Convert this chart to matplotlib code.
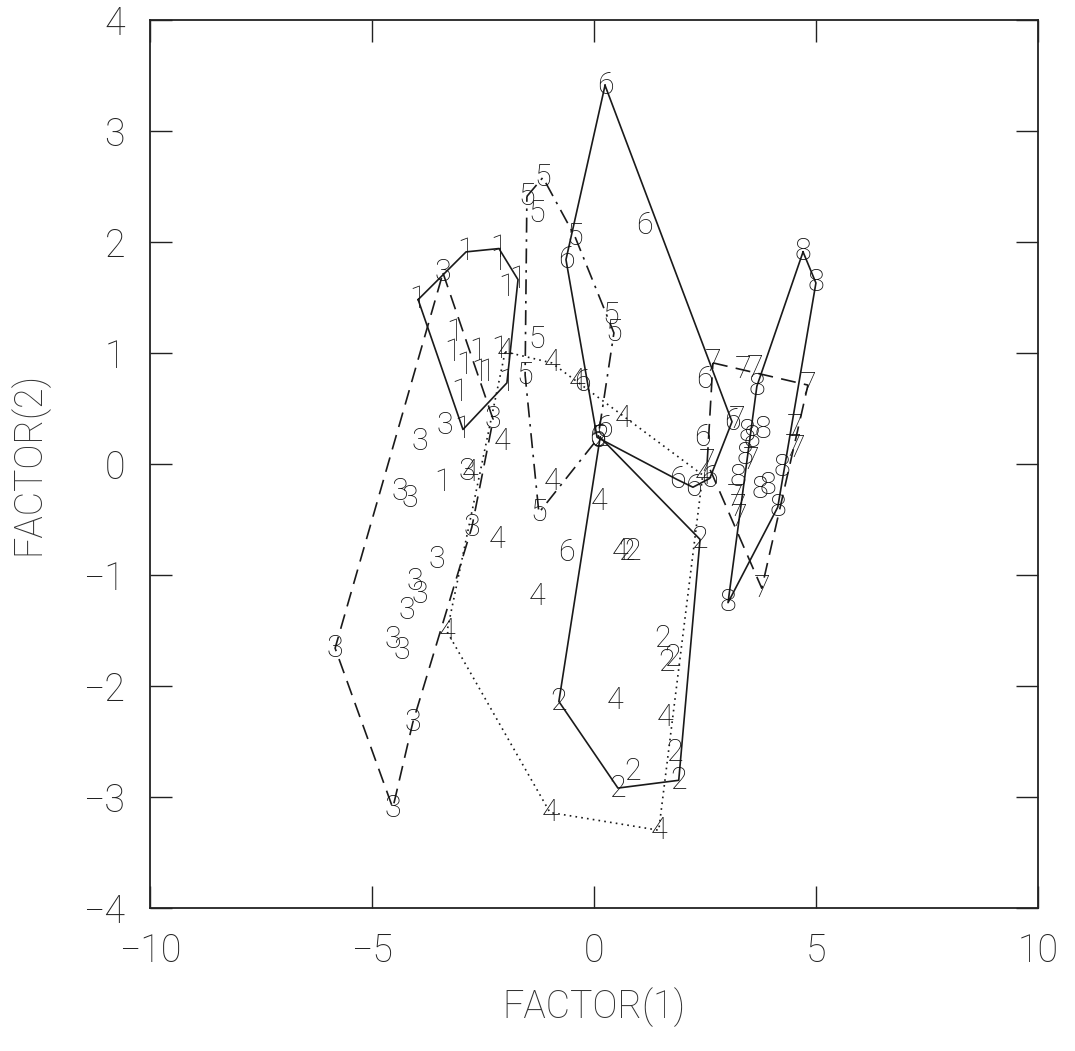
import numpy as np
import matplotlib
matplotlib.use("Agg")
import matplotlib.pyplot as plt

plt.rcParams['font.family'] = ['Roboto', 'DejaVu Sans']

# group labels and their factor scores (FACTOR(1), FACTOR(2))
g1_x = [-3.96, -2.88, -2.14, -2.14, -1.71, -1.96, -3.13, -3.18, -2.61, -2.91, -2.57, -2.41, -2.12, -1.96, -3.02, -2.95, -3.40]
g1_y = [1.48, 1.91, 1.94, 1.82, 1.66, 1.59, 1.18, 1.00, 1.01, 0.89, 0.82, 0.82, 1.03, 0.73, 0.64, 0.31, -0.17]
g1_hull = [0, 1, 2, 4, 13, 15]

g2_x = [0.14, 2.39, 0.74, 0.88, 1.55, 1.78, 1.64, -0.79, 1.82, 0.86, 0.54, 1.91]
g2_y = [0.24, -0.68, -0.79, -0.79, -1.57, -1.74, -1.79, -2.14, -2.60, -2.77, -2.92, -2.85]
g2_hull = [0, 1, 11, 10, 7]

g3_x = [-3.40, -2.27, -3.36, -3.92, -2.86, -4.37, -4.14, -2.75, -3.54, -4.03, -3.92, -4.21, -4.53, -4.32, -5.83, -4.08, -4.53]
g3_y = [1.72, 0.40, 0.35, 0.20, -0.07, -0.25, -0.31, -0.57, -0.86, -1.06, -1.18, -1.32, -1.58, -1.68, -1.66, -2.33, -3.10]
g3_hull = [0, 1, 7, 15, 16, 14]

g4_x = [-2.00, -0.95, 0.65, 2.45, -2.07, -2.79, -0.95, 0.11, -2.18, 0.59, -1.28, -3.31, 0.47, 1.60, -0.99, 1.46, -0.38]
g4_y = [1.01, 0.91, 0.41, -0.10, 0.20, -0.08, -0.16, -0.34, -0.68, -0.79, -1.19, -1.51, -2.13, -2.28, -3.14, -3.30, 0.74]
g4_hull = [0, 1, 3, 15, 14, 11]

g5_x = [-1.15, -1.51, -1.28, -0.43, 0.38, 0.45, -1.28, -1.55, -1.24, 0.09]
g5_y = [2.58, 2.41, 2.26, 2.05, 1.34, 1.18, 1.12, 0.80, -0.44, 0.23]
g5_hull = [1, 0, 3, 5, 9, 8, 7]

g6_x = [0.25, 1.13, -0.63, -0.27, 0.07, 0.23, 2.48, 2.45, 1.87, 2.23, 2.61, 3.11, -0.61]
g6_y = [3.41, 2.15, 1.84, 0.73, 0.24, 0.32, 0.76, 0.24, -0.14, -0.21, -0.13, 0.38, -0.80]
g6_hull = [0, 11, 10, 9, 8, 4, 2]

g7_x = [2.68, 3.36, 3.63, 4.82, 3.22, 4.53, 4.48, 4.57, 3.55, 2.55, 3.18, 3.24, 3.27, 3.78]
g7_y = [0.91, 0.85, 0.86, 0.71, 0.40, 0.33, 0.15, 0.14, 0.03, 0.01, -0.30, -0.39, -0.48, -1.12]
g7_hull = [0, 3, 13, 9]

g8_x = [4.71, 5.00, 3.67, 3.45, 3.56, 3.81, 3.40, 3.24, 3.92, 3.74, 4.23, 4.14, 3.02]
g8_y = [1.91, 1.63, 0.70, 0.28, 0.23, 0.31, 0.08, -0.12, -0.19, -0.23, -0.03, -0.39, -1.25]
g8_hull = [0, 1, 11, 12, 2]

groups = [
    ('1', g1_x, g1_y, g1_hull, '-'),
    ('2', g2_x, g2_y, g2_hull, '-'),
    ('3', g3_x, g3_y, g3_hull, (0, (9, 5))),
    ('4', g4_x, g4_y, g4_hull, (0, (1, 2.5))),
    ('5', g5_x, g5_y, g5_hull, (0, (9, 4, 1.5, 4))),
    ('6', g6_x, g6_y, g6_hull, '-'),
    ('7', g7_x, g7_y, g7_hull, (0, (9, 5))),
    ('8', g8_x, g8_y, g8_hull, '-'),
]

fig = plt.figure(figsize=(10.75, 10.51), dpi=100)
ax = fig.add_axes([0.1395, 0.1361, 0.826, 0.845])

for lab, xs, ys, hull, ls in groups:
    xs = np.array(xs)
    ys = np.array(ys)
    idx = hull + [hull[0]]
    ax.plot(xs[idx], ys[idx], color='#1a1a1a', lw=1.2, linestyle=ls)
    for x, y in zip(xs, ys):
        ax.text(x, y, lab, ha='center', va='center', fontsize=22,
                fontweight='light', color='#111111')

ax.set_xlim(-10, 10)
ax.set_ylim(-4, 4)
ax.set_xticks([-10, -5, 0, 5, 10])
ax.set_yticks(np.arange(-4, 5, 1))
ax.tick_params(direction='in', length=16, width=1, top=True, right=True,
               labelsize=27, pad=18, colors='#222222')
for lbl in ax.get_xticklabels() + ax.get_yticklabels():
    lbl.set_fontweight('light')
for sp in ax.spines.values():
    sp.set_linewidth(1.3)
    sp.set_color('#222222')
ax.set_xlabel('FACTOR(1)', fontsize=27, fontweight='light', labelpad=12, color='#333333')
ax.set_ylabel('FACTOR(2)', fontsize=27, fontweight='light', labelpad=25, color='#333333')

plt.savefig('out.png', dpi=100)
